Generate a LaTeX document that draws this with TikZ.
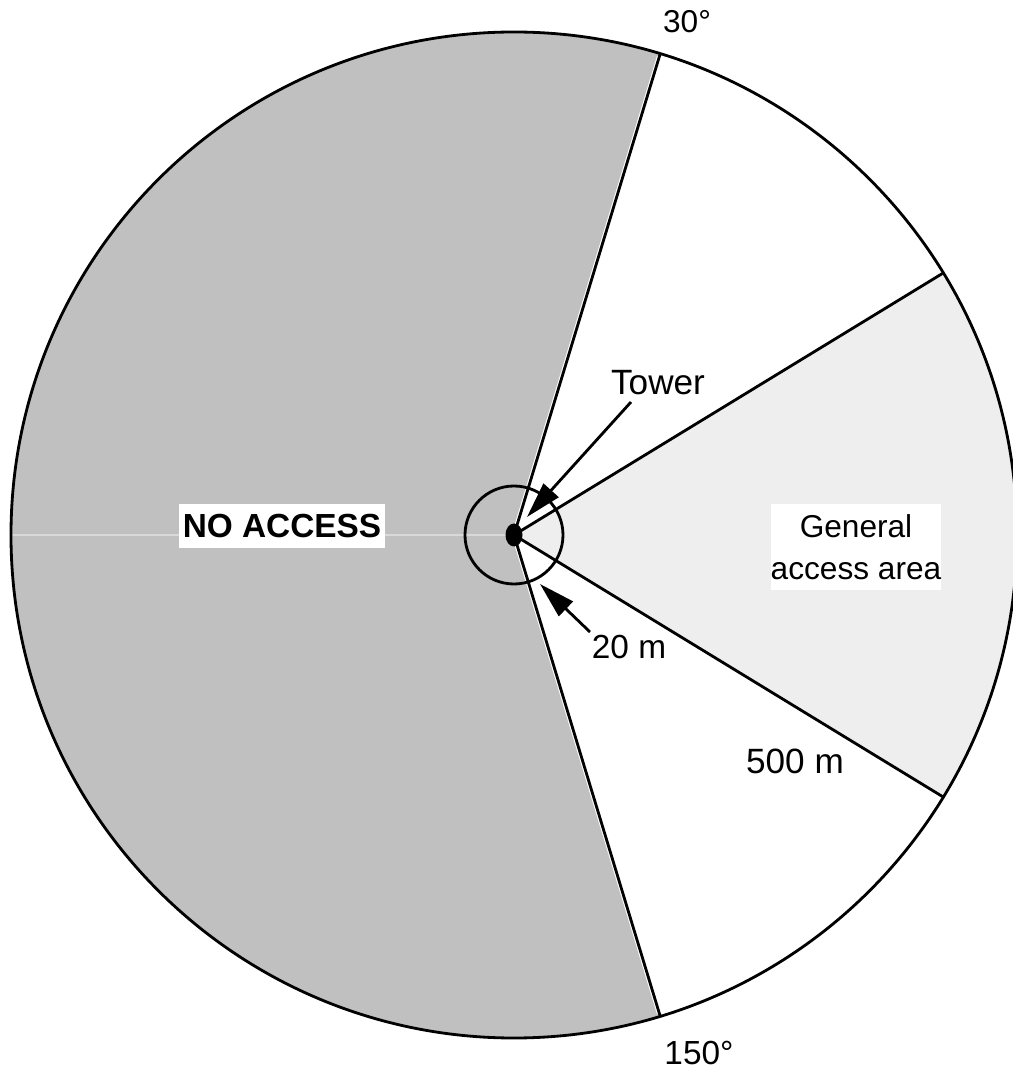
\documentclass[tikz,border=0pt]{standalone}
\usepackage{fontspec}
\setmainfont{Liberation Sans}
\usetikzlibrary{arrows.meta,positioning}
\definecolor{noaccess}{HTML}{C0C0C0}
\definecolor{generalfill}{HTML}{EEEEEE}

\begin{document}
\begin{tikzpicture}[x=0.02cm, y=0.02cm,
  lbl/.style={font=\fontsize{20}{24}\selectfont, inner sep=0pt},
  tag/.style={lbl, fill=white, align=center},
  edge/.style={line width=1.6pt},
  arr/.style={-{Triangle[length=0.72cm, width=0.4cm]}, line width=1.6pt}
]
  \useasboundingbox (-514,-536) rectangle (499,535);
  \clip (-514,-536) rectangle (499,535);
  \coordinate (c) at (0,0);
  % sectors
  \fill[noaccess] (c) -- (73.1:503) arc[start angle=73.1, end angle=286.9, radius=503] -- cycle;
  \fill[generalfill] (c) -- (-31.4:503) arc[start angle=-31.4, end angle=31.4, radius=503] -- cycle;
  \draw[noaccess!60!white, line width=0.6pt] (180:503) -- (c);
  % boundaries
  \draw[edge] (c) circle[radius=503];
  \foreach \a in {73.1,-73.1}
    \draw[white, line width=2.8pt] (c) -- (\a:500);
  \foreach \a in {73.1,31.4,-31.4,-73.1}
    \draw[edge] (c) -- (\a:503);
  \draw[edge] (c) circle[radius=49];
  \fill (c) ellipse[x radius=8.5, y radius=11.5];

  \node[lbl, font=\fontsize{18}{24}\selectfont] (deg30) at (173,513) {30°};
  \node[lbl, font=\fontsize{19}{24}\selectfont] (deg150) at (185,-518) {150°};
  \node[lbl] (tower) at (144,152) {Tower};
  \node[lbl, font=\fontsize{19}{24}\selectfont] (dist20) at (115,-112) {20 m};
  \node[lbl] (dist500) at (281,-226) {500 m};
  \node[tag, font=\fontsize{18}{24}\selectfont, minimum width=3.42cm, minimum height=1.74cm] (general) at (342,-12) {General\\access area};
  \node[tag, font=\fontsize{19}{24}\selectfont\bfseries, minimum width=4.12cm, minimum height=0.9cm] (noacc) at (-232,9) {NO ACCESS};

  \coordinate (towertail) at (117,133);
  \coordinate (towertip) at (13,18);
  \coordinate (ringtail) at (76,-97);
  \coordinate (ringtip) at (26,-49);
  \draw[arr] (towertail) -- (towertip);
  \draw[arr] (ringtail) -- (ringtip);
\end{tikzpicture}
\end{document}
